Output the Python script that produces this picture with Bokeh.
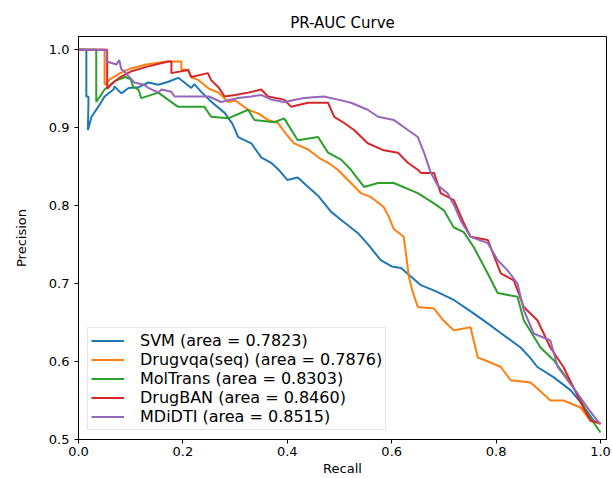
from bokeh.plotting import figure
from bokeh.models import Range1d, FixedTicker, NumeralTickFormatter
from bokeh.embed import file_html
from bokeh.resources import INLINE

# ---- data ----
svm_recall = [0.0, 0.015, 0.015, 0.019, 0.019, 0.018, 0.025, 0.038, 0.05, 0.067, 0.069, 0.082, 0.096,
              0.115, 0.134, 0.153, 0.172, 0.191, 0.203, 0.216, 0.222, 0.235, 0.255, 0.28, 0.295, 0.306,
              0.331, 0.35, 0.369, 0.385, 0.40, 0.42, 0.44, 0.46, 0.484, 0.51, 0.535, 0.555, 0.579,
              0.60, 0.618, 0.635, 0.656, 0.685, 0.719, 0.75, 0.784, 0.81, 0.847, 0.865, 0.879, 0.91,
              0.943, 0.965, 0.987, 1.0]
svm_precision = [1.0, 1.0, 0.94, 0.94, 0.93, 0.897, 0.914, 0.927, 0.94, 0.949, 0.953, 0.944, 0.951,
                 0.952, 0.958, 0.955, 0.959, 0.964, 0.958, 0.951, 0.956, 0.946, 0.933, 0.919, 0.905, 0.888,
                 0.880, 0.862, 0.855, 0.845, 0.833, 0.836, 0.824, 0.812, 0.792, 0.778, 0.765, 0.750, 0.730,
                 0.722, 0.720, 0.710, 0.698, 0.690, 0.679, 0.665, 0.649, 0.636, 0.618, 0.605, 0.593, 0.580,
                 0.563, 0.545, 0.524, 0.520]

drugvqa_recall = [0.0, 0.05, 0.05, 0.06, 0.08, 0.10, 0.13, 0.17, 0.197, 0.197, 0.21, 0.216, 0.23, 0.25,
                  0.268, 0.287, 0.30, 0.325, 0.345, 0.363, 0.382, 0.40, 0.413, 0.44, 0.459, 0.478, 0.497,
                  0.516, 0.522, 0.541, 0.56, 0.585, 0.595, 0.604, 0.623, 0.628, 0.633, 0.64, 0.65, 0.681,
                  0.70, 0.719, 0.751, 0.765, 0.785, 0.809, 0.828, 0.866, 0.885, 0.904, 0.929, 0.962,
                  0.981, 1.0]
drugvqa_precision = [1.0, 1.0, 0.955, 0.962, 0.970, 0.976, 0.981, 0.985, 0.985, 0.975, 0.974, 0.965, 0.961,
                     0.950, 0.945, 0.933, 0.935, 0.923, 0.918, 0.910, 0.906, 0.890, 0.880, 0.872, 0.862,
                     0.855, 0.846, 0.833, 0.829, 0.816, 0.811, 0.798, 0.785, 0.770, 0.760, 0.735, 0.708,
                     0.690, 0.670, 0.668, 0.652, 0.640, 0.644, 0.605, 0.600, 0.593, 0.576, 0.573, 0.562,
                     0.550, 0.550, 0.541, 0.524, 0.520]

moltrans_recall = [0.0, 0.034, 0.034, 0.05, 0.07, 0.09, 0.10, 0.105, 0.115, 0.12, 0.153, 0.19, 0.241,
                   0.254, 0.287, 0.325, 0.337, 0.375, 0.394, 0.42, 0.459, 0.478, 0.503, 0.522, 0.547,
                   0.574, 0.604, 0.65, 0.681, 0.70, 0.719, 0.738, 0.757, 0.784, 0.803, 0.841, 0.853,
                   0.885, 0.91, 0.929, 0.956, 0.975, 1.0]
moltrans_precision = [1.0, 1.0, 0.933, 0.949, 0.960, 0.965, 0.962, 0.952, 0.949, 0.938, 0.945, 0.927, 0.927,
                      0.914, 0.912, 0.923, 0.910, 0.907, 0.912, 0.884, 0.888, 0.868, 0.859, 0.846, 0.824,
                      0.829, 0.829, 0.816, 0.803, 0.794, 0.772, 0.766, 0.747, 0.713, 0.688, 0.683, 0.653,
                      0.618, 0.602, 0.585, 0.559, 0.533, 0.509]

drugban_recall = [0.0, 0.055, 0.055, 0.065, 0.08, 0.10, 0.13, 0.172, 0.178, 0.178, 0.21, 0.216, 0.248,
                  0.254, 0.268, 0.28, 0.30, 0.325, 0.35, 0.363, 0.394, 0.407, 0.44, 0.478, 0.49, 0.509,
                  0.528, 0.554, 0.585, 0.612, 0.631, 0.65, 0.656, 0.681, 0.694, 0.719, 0.738, 0.751,
                  0.784, 0.809, 0.834, 0.853, 0.879, 0.904, 0.929, 0.948, 0.967, 0.981, 1.0]
drugban_precision = [1.0, 1.0, 0.95, 0.957, 0.965, 0.972, 0.978, 0.985, 0.985, 0.970, 0.974, 0.965, 0.970,
                     0.961, 0.952, 0.940, 0.942, 0.945, 0.949, 0.940, 0.936, 0.927, 0.932, 0.932, 0.914,
                     0.906, 0.897, 0.880, 0.871, 0.868, 0.855, 0.846, 0.842, 0.842, 0.816, 0.807, 0.778,
                     0.760, 0.756, 0.713, 0.704, 0.670, 0.653, 0.618, 0.593, 0.567, 0.541, 0.524, 0.521]

mdidti_recall = [0.0, 0.054, 0.054, 0.073, 0.078, 0.082, 0.088, 0.107, 0.126, 0.134, 0.153, 0.159, 0.178,
                 0.184, 0.21, 0.25, 0.273, 0.306, 0.331, 0.35, 0.369, 0.394, 0.432, 0.47, 0.497, 0.522,
                 0.554, 0.574, 0.604, 0.631, 0.65, 0.662, 0.675, 0.688, 0.707, 0.72, 0.732, 0.751, 0.784,
                 0.803, 0.822, 0.841, 0.853, 0.872, 0.904, 0.918, 0.937, 0.956, 0.975, 0.994, 1.0]
mdidti_precision = [1.0, 1.0, 0.985, 0.981, 0.987, 0.975, 0.972, 0.958, 0.955, 0.951, 0.945, 0.949, 0.946,
                    0.940, 0.940, 0.940, 0.933, 0.938, 0.940, 0.942, 0.936, 0.933, 0.938, 0.940, 0.936,
                    0.932, 0.923, 0.914, 0.910, 0.897, 0.888, 0.868, 0.842, 0.826, 0.816, 0.800, 0.781,
                    0.760, 0.752, 0.730, 0.717, 0.700, 0.666, 0.636, 0.627, 0.593, 0.576, 0.559, 0.541,
                    0.524, 0.520]

series_labels = ["SVM (area = 0.7823)", "Drugvqa(seq) (area = 0.7876)", "MolTrans (area = 0.8303)",
                 "DrugBAN (area = 0.8460)", "MDiDTI (area = 0.8515)"]
series_colors = ["#1f77b4", "#ff7f0e", "#2ca02c", "#d62728", "#9467bd"]
x_ticks = [0.0, 0.2, 0.4, 0.6, 0.8, 1.0]
y_ticks = [0.5, 0.6, 0.7, 0.8, 0.9, 1.0]

FONT = "DejaVu Sans"

p = figure(width=612, height=478, output_backend="svg", toolbar_location=None,
           x_range=Range1d(0.0, 1.0115), y_range=Range1d(0.5, 1.017),
           min_border_left=78, min_border_right=6, min_border_top=36, min_border_bottom=39,
           title="PR-AUC Curve", x_axis_label="Recall", y_axis_label="Precision")

p.title.align = "center"
p.title.text_font = FONT
p.title.text_font_size = "15px"
p.title.text_font_style = "normal"
p.title.text_color = "black"

series = [(svm_recall, svm_precision), (drugvqa_recall, drugvqa_precision),
          (moltrans_recall, moltrans_precision), (drugban_recall, drugban_precision),
          (mdidti_recall, mdidti_precision)]
for (r, pr), lab, col in zip(series, series_labels, series_colors):
    p.line(r, pr, line_color=col, line_width=2, legend_label=lab)

p.grid.visible = False
p.outline_line_color = "black"
p.outline_line_alpha = 1.0
p.outline_line_width = 1
p.background_fill_color = "white"
p.border_fill_color = "white"

p.xaxis.ticker = FixedTicker(ticks=x_ticks)
p.yaxis.ticker = FixedTicker(ticks=y_ticks)
for ax in (p.xaxis[0], p.yaxis[0]):
    ax.formatter = NumeralTickFormatter(format="0.0")
    ax.major_tick_out = 4
    ax.major_tick_in = 0
    ax.minor_tick_out = 0
    ax.minor_tick_in = 0
    ax.axis_line_color = "black"
    ax.major_tick_line_color = "black"
    ax.major_label_text_font = FONT
    ax.major_label_text_font_size = "13px"
    ax.major_label_text_color = "black"
    ax.axis_label_text_font = FONT
    ax.axis_label_text_font_size = "13px"
    ax.axis_label_text_font_style = "normal"
    ax.axis_label_text_color = "black"
p.xaxis[0].major_label_standoff = 3
p.xaxis[0].axis_label_standoff = 2
p.yaxis[0].major_label_standoff = 5
p.yaxis[0].axis_label_standoff = 17

lg = p.legend[0]
lg.location = "bottom_left"
lg.margin = 9
lg.padding = 3
lg.spacing = 0
lg.glyph_width = 33
lg.glyph_height = 19
lg.label_height = 19
lg.label_standoff = 16
lg.label_text_font = FONT
lg.label_text_font_size = "16px"
lg.label_text_color = "black"
lg.border_line_color = "#cccccc"
lg.border_line_width = 1
lg.background_fill_alpha = 0.8

open("out.html", "w").write(file_html(p, INLINE))
